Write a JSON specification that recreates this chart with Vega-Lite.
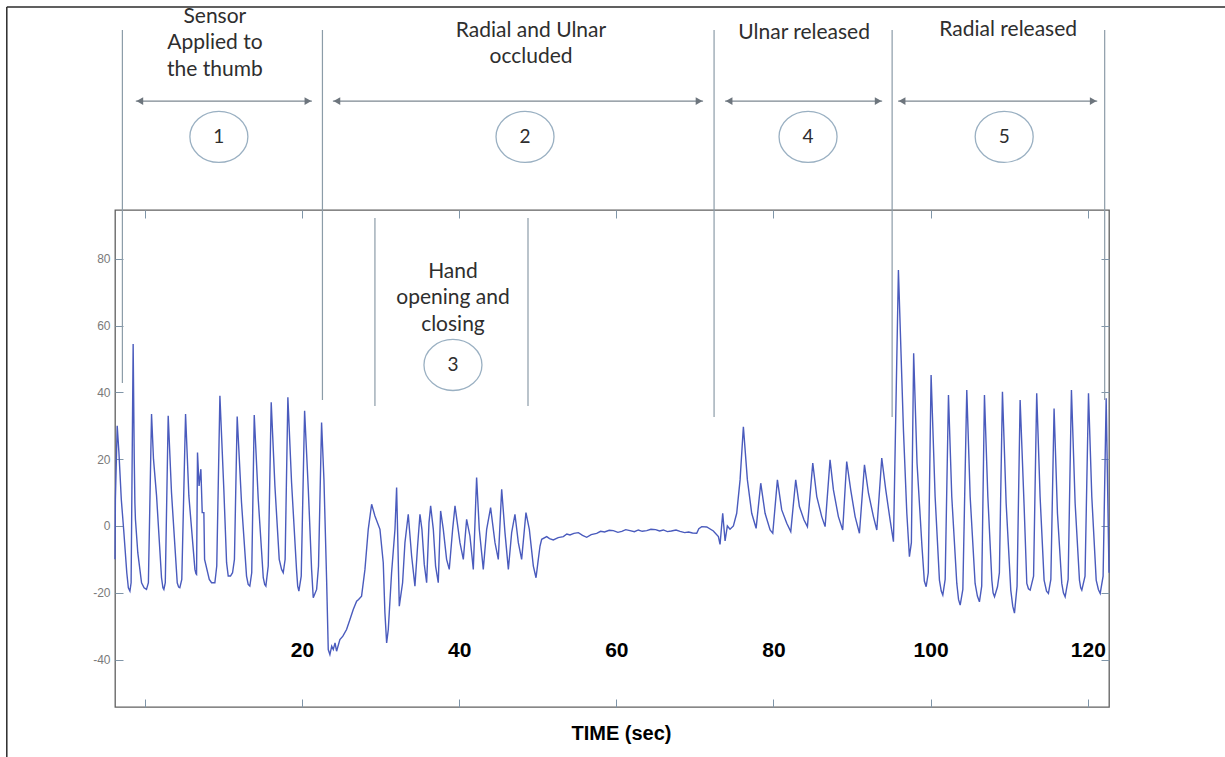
{
  "$schema": "https://vega.github.io/schema/vega-lite/v6.json",
  "width": 994,
  "height": 497,
  "autosize": "none",
  "padding": {"left": 115, "top": 210, "right": 116, "bottom": 50},
  "background": "white",
  "config": {
    "view": {"stroke": "#606060", "strokeWidth": 1.3},
    "axis": {"grid": false, "domain": false, "tickColor": "#7f95a8", "tickWidth": 1}
  },
  "datasets": {
    "signal": [
      {"t": -3.8, "v": -10}, {"t": -3.75, "v": 8}, {"t": -3.52, "v": 30}, {"t": -3.3, "v": 22}, {"t": -3.0, "v": 8},
      {"t": -2.7, "v": -1}, {"t": -2.3, "v": -14}, {"t": -2.1, "v": -18.5}, {"t": -1.9, "v": -19.5}, {"t": -1.75, "v": -17}, {"t": -1.49, "v": 54.5},
      {"t": -1.35, "v": 20}, {"t": -1.27, "v": 7}, {"t": -1.2, "v": 2}, {"t": -0.9, "v": -8}, {"t": -0.42, "v": -17},
      {"t": -0.1, "v": -18.5}, {"t": 0.21, "v": -19}, {"t": 0.45, "v": -17}, {"t": 0.85, "v": 33.5}, {"t": 1.1, "v": 20}, {"t": 1.49, "v": 9},
      {"t": 2.12, "v": -15.5}, {"t": 2.3, "v": -18.5}, {"t": 2.42, "v": -19}, {"t": 2.6, "v": -17}, {"t": 2.97, "v": 33}, {"t": 3.39, "v": 10},
      {"t": 4.12, "v": -17}, {"t": 4.3, "v": -18.3}, {"t": 4.45, "v": -18.5}, {"t": 4.7, "v": -16}, {"t": 5.18, "v": 33.5}, {"t": 5.6, "v": 9},
      {"t": 6.37, "v": -13}, {"t": 6.5, "v": -14.3}, {"t": 6.58, "v": -14.5}, {"t": 6.7, "v": 22}, {"t": 6.9, "v": 12}, {"t": 7.13, "v": 17},
      {"t": 7.3, "v": 4}, {"t": 7.51, "v": 4}, {"t": 7.6, "v": -10}, {"t": 8.2, "v": -16}, {"t": 8.49, "v": -17}, {"t": 8.91, "v": -17},
      {"t": 9.15, "v": -12}, {"t": 9.55, "v": 39}, {"t": 10.05, "v": 11}, {"t": 10.4, "v": -11}, {"t": 10.61, "v": -15},
      {"t": 10.9, "v": -15}, {"t": 11.16, "v": -14}, {"t": 11.4, "v": -10}, {"t": 11.75, "v": 32.8}, {"t": 12.3, "v": 7}, {"t": 12.94, "v": -15},
      {"t": 13.15, "v": -17.5}, {"t": 13.36, "v": -18}, {"t": 13.6, "v": -14}, {"t": 13.92, "v": 33.2}, {"t": 14.43, "v": 8}, {"t": 15.07, "v": -15.5},
      {"t": 15.25, "v": -17.5}, {"t": 15.4, "v": -18}, {"t": 15.7, "v": -12}, {"t": 16.08, "v": 37}, {"t": 16.55, "v": 12}, {"t": 17.1, "v": -10},
      {"t": 17.4, "v": -13}, {"t": 17.61, "v": -14}, {"t": 17.85, "v": -10}, {"t": 18.2, "v": 38.5}, {"t": 18.67, "v": 13}, {"t": 19.3, "v": -13},
      {"t": 19.45, "v": -18}, {"t": 19.6, "v": -19.5}, {"t": 19.9, "v": -15}, {"t": 20.33, "v": 34.5}, {"t": 20.8, "v": 11}, {"t": 21.22, "v": -13},
      {"t": 21.43, "v": -21.5}, {"t": 21.86, "v": -19}, {"t": 22.1, "v": -12}, {"t": 22.49, "v": 31}, {"t": 22.79, "v": 14},
      {"t": 23.13, "v": -16}, {"t": 23.34, "v": -37}, {"t": 23.55, "v": -38.5}, {"t": 23.78, "v": -36}, {"t": 23.98, "v": -37}, {"t": 24.2, "v": -35}, {"t": 24.4, "v": -37.5},
      {"t": 24.82, "v": -34}, {"t": 25.2, "v": -33}, {"t": 25.67, "v": -31}, {"t": 26.1, "v": -28}, {"t": 26.52, "v": -25}, {"t": 26.95, "v": -22.5}, {"t": 27.2, "v": -22}, {"t": 27.58, "v": -21},
      {"t": 28.01, "v": -13}, {"t": 28.43, "v": -1}, {"t": 28.86, "v": 6.5}, {"t": 29.28, "v": 3}, {"t": 29.92, "v": -1},
      {"t": 30.34, "v": -11}, {"t": 30.55, "v": -26}, {"t": 30.77, "v": -35}, {"t": 30.98, "v": -31}, {"t": 31.4, "v": -14},
      {"t": 31.83, "v": -1}, {"t": 32.04, "v": 11.5}, {"t": 32.38, "v": -24}, {"t": 32.8, "v": -17}, {"t": 33.1, "v": -5},
      {"t": 33.52, "v": 3.5}, {"t": 33.95, "v": -9}, {"t": 34.37, "v": -18}, {"t": 34.71, "v": -6}, {"t": 35.01, "v": 3.5},
      {"t": 35.26, "v": -1}, {"t": 35.56, "v": -11.5}, {"t": 35.86, "v": -17}, {"t": 36.16, "v": 1}, {"t": 36.37, "v": 6},
      {"t": 36.71, "v": -1}, {"t": 37.0, "v": -12}, {"t": 37.34, "v": -17}, {"t": 37.64, "v": 4.5}, {"t": 37.98, "v": -1},
      {"t": 38.4, "v": -10}, {"t": 38.74, "v": -13}, {"t": 39.17, "v": -1}, {"t": 39.47, "v": 6}, {"t": 40.1, "v": -5},
      {"t": 40.53, "v": -10}, {"t": 40.95, "v": 2}, {"t": 41.37, "v": -3}, {"t": 41.8, "v": -13}, {"t": 42.22, "v": 14.5},
      {"t": 42.56, "v": -1}, {"t": 43.07, "v": -13}, {"t": 43.5, "v": -1}, {"t": 44.0, "v": 5.5}, {"t": 44.56, "v": -5},
      {"t": 44.98, "v": -10}, {"t": 45.41, "v": 11}, {"t": 45.83, "v": -2}, {"t": 46.26, "v": -13}, {"t": 46.68, "v": -2},
      {"t": 47.1, "v": 3.5}, {"t": 47.53, "v": -5}, {"t": 47.95, "v": -10}, {"t": 48.5, "v": 4}, {"t": 48.93, "v": -1},
      {"t": 49.44, "v": -12}, {"t": 49.78, "v": -15.5}, {"t": 50.07, "v": -10}, {"t": 50.29, "v": -6}, {"t": 50.5, "v": -4},
      {"t": 51.14, "v": -3.2}, {"t": 51.5, "v": -3.8}, {"t": 51.98, "v": -4.2}, {"t": 52.6, "v": -3.5}, {"t": 53.26, "v": -3.2}, {"t": 53.7, "v": -2.4}, {"t": 54.1, "v": -2.7}, {"t": 54.6, "v": -2.2}, {"t": 55.17, "v": -2},
      {"t": 55.7, "v": -2.8}, {"t": 56.23, "v": -3.4}, {"t": 56.8, "v": -2.6}, {"t": 57.5, "v": -2.2}, {"t": 58.0, "v": -1.6}, {"t": 58.5, "v": -1.8}, {"t": 59.1, "v": -1.3}, {"t": 59.62, "v": -1.4}, {"t": 60.2, "v": -1.9}, {"t": 60.7, "v": -1.6},
      {"t": 61.2, "v": -1.1}, {"t": 61.74, "v": -1.4}, {"t": 62.3, "v": -1.7}, {"t": 62.8, "v": -1.2}, {"t": 63.3, "v": -1.6}, {"t": 63.87, "v": -1.4}, {"t": 64.4, "v": -1.0}, {"t": 65.0, "v": -1.1}, {"t": 65.5, "v": -1.5}, {"t": 65.99, "v": -1.2},
      {"t": 66.5, "v": -1.7}, {"t": 67.0, "v": -1.5}, {"t": 67.6, "v": -1.2}, {"t": 68.11, "v": -1.6}, {"t": 68.7, "v": -2.0}, {"t": 69.2, "v": -1.8}, {"t": 69.7, "v": -2.1}, {"t": 70.23, "v": -2.2}, {"t": 70.5, "v": -0.8}, {"t": 70.87, "v": -0.2},
      {"t": 71.51, "v": -0.3}, {"t": 72.35, "v": -1.5}, {"t": 72.99, "v": -3.2}, {"t": 73.2, "v": -5.5}, {"t": 73.54, "v": 3.8},
      {"t": 73.84, "v": -4.5}, {"t": 74.13, "v": 0}, {"t": 74.47, "v": -1}, {"t": 74.9, "v": 0}, {"t": 75.32, "v": 3.8},
      {"t": 75.75, "v": 13.8}, {"t": 76.17, "v": 29.7}, {"t": 76.68, "v": 13.8}, {"t": 77.23, "v": 3.8}, {"t": 77.79, "v": -0.7},
      {"t": 78.38, "v": 12.8}, {"t": 78.93, "v": 3.8}, {"t": 79.57, "v": -1.2}, {"t": 79.91, "v": -2.2}, {"t": 80.5, "v": 13.8},
      {"t": 81.05, "v": 4.8}, {"t": 81.69, "v": 0.8}, {"t": 82.2, "v": -1.7}, {"t": 82.83, "v": 13.8}, {"t": 83.3, "v": 5.8},
      {"t": 83.89, "v": 1.8}, {"t": 84.32, "v": -0.2}, {"t": 85.0, "v": 18.8}, {"t": 85.51, "v": 8.8}, {"t": 86.14, "v": 2.8},
      {"t": 86.57, "v": -0.2}, {"t": 87.2, "v": 19.8}, {"t": 87.63, "v": 10.8}, {"t": 88.26, "v": 2.8}, {"t": 88.81, "v": -1.2},
      {"t": 89.32, "v": 19.3}, {"t": 89.83, "v": 10.8}, {"t": 90.39, "v": 2.8}, {"t": 90.94, "v": -2.2}, {"t": 91.58, "v": 18.3},
      {"t": 92.09, "v": 9.8}, {"t": 92.72, "v": 2.8}, {"t": 93.15, "v": -1.2}, {"t": 93.78, "v": 20.3}, {"t": 94.29, "v": 10.8},
      {"t": 94.84, "v": 1.8}, {"t": 95.27, "v": -4.7}, {"t": 95.9, "v": 76.6}, {"t": 96.54, "v": 28.7}, {"t": 96.97, "v": 3.8},
      {"t": 97.3, "v": -9.2}, {"t": 97.55, "v": -5}, {"t": 97.84, "v": 51.7}, {"t": 98.27, "v": 18.8}, {"t": 98.9, "v": -6.2},
      {"t": 99.2, "v": -16.5}, {"t": 99.43, "v": -18.2}, {"t": 99.7, "v": -14}, {"t": 100.06, "v": 45.2}, {"t": 100.57, "v": 8.8}, {"t": 101.12, "v": -16.2},
      {"t": 101.35, "v": -19.5}, {"t": 101.55, "v": -20.7}, {"t": 101.85, "v": -16}, {"t": 102.27, "v": 39.2}, {"t": 102.69, "v": 8.8}, {"t": 103.33, "v": -17.2},
      {"t": 103.55, "v": -22}, {"t": 103.76, "v": -23.7}, {"t": 104.1, "v": -19}, {"t": 104.6, "v": 40.7}, {"t": 105.03, "v": 8.8}, {"t": 105.66, "v": -17.2},
      {"t": 105.95, "v": -21}, {"t": 106.21, "v": -22.7}, {"t": 106.5, "v": -18}, {"t": 106.85, "v": 39.2}, {"t": 107.28, "v": 8.8}, {"t": 107.79, "v": -16.2},
      {"t": 107.95, "v": -20}, {"t": 108.13, "v": -21.2}, {"t": 108.51, "v": -18.2}, {"t": 108.75, "v": -14}, {"t": 109.14, "v": 40.2}, {"t": 109.61, "v": 6.8},
      {"t": 110.2, "v": -19.2}, {"t": 110.45, "v": -24}, {"t": 110.67, "v": -26.1}, {"t": 111.0, "v": -18}, {"t": 111.39, "v": 37.7}, {"t": 111.9, "v": 5.8},
      {"t": 112.24, "v": -17.2}, {"t": 112.45, "v": -18.8}, {"t": 112.67, "v": -19.2}, {"t": 113.1, "v": -15}, {"t": 113.5, "v": 39.7}, {"t": 113.93, "v": 8.8},
      {"t": 114.44, "v": -16.2}, {"t": 114.75, "v": -19.5}, {"t": 114.99, "v": -20.2}, {"t": 115.3, "v": -16}, {"t": 115.71, "v": 35.2}, {"t": 116.14, "v": 3.8},
      {"t": 116.69, "v": -17.2}, {"t": 116.9, "v": -20}, {"t": 117.12, "v": -21.2}, {"t": 117.5, "v": -16}, {"t": 117.92, "v": 40.7}, {"t": 118.39, "v": 6.8},
      {"t": 118.94, "v": -16.2}, {"t": 119.1, "v": -18.5}, {"t": 119.24, "v": -19.2}, {"t": 119.65, "v": -15}, {"t": 120.09, "v": 39.7}, {"t": 120.51, "v": 8.8},
      {"t": 121.07, "v": -16.2}, {"t": 121.35, "v": -19}, {"t": 121.58, "v": -20.2}, {"t": 121.95, "v": -15}, {"t": 122.34, "v": 38.2}, {"t": 122.7, "v": -14}
    ],
    "dividers": [
      {"t": -2.86, "top": 148.5, "bottom": 42.8},
      {"t": 22.6, "top": 148.5, "bottom": 37.7},
      {"t": 72.44, "top": 148.5, "bottom": 32.6},
      {"t": 95.1, "top": 148.5, "bottom": 32.6},
      {"t": 122.15, "top": 148.5, "bottom": 37.7},
      {"t": 29.28, "top": 92.2, "bottom": 35.9},
      {"t": 48.76, "top": 92.2, "bottom": 35.9}
    ],
    "spans": [
      {"start": -1.15, "end": 21.26, "v": 127.2},
      {"start": 23.93, "end": 71.04, "v": 127.2},
      {"start": 73.84, "end": 93.83, "v": 127.2},
      {"start": 95.86, "end": 121.2, "v": 127.2}
    ],
    "phases": [
      {"t": 9.42, "v": 116.5, "label": "1"},
      {"t": 48.38, "v": 116.5, "label": "2"},
      {"t": 39.21, "v": 48.2, "label": "3"},
      {"t": 84.4, "v": 116.5, "label": "4"},
      {"t": 109.36, "v": 116.5, "label": "5"}
    ],
    "notes": [
      {"t": 8.91, "v": 152.4, "text": "Sensor"},
      {"t": 8.91, "v": 144.6, "text": "Applied to"},
      {"t": 8.91, "v": 136.5, "text": "the thumb"},
      {"t": 49.14, "v": 148.2, "text": "Radial and Ulnar"},
      {"t": 49.14, "v": 140.4, "text": "occluded"},
      {"t": 83.9, "v": 147.6, "text": "Ulnar released"},
      {"t": 109.87, "v": 148.5, "text": "Radial released"},
      {"t": 39.21, "v": 76.0, "text": "Hand"},
      {"t": 39.21, "v": 68.3, "text": "opening and"},
      {"t": 39.21, "v": 60.2, "text": "closing"}
    ],
    "border": [
      {"x1": -17.57, "x2": -17.57, "y1": 155.4, "y2": -75},
      {"x1": -17.57, "x2": 140, "y1": 155.4, "y2": 155.4}
    ]
  },
  "layer": [
    {
      "data": {"name": "border"},
      "mark": {"type": "rule", "color": "#2b2b2b", "strokeWidth": 1.5},
      "encoding": {
        "x": {"field": "x1", "type": "quantitative", "axis": null, "scale": {"domain": [-3.8, 122.7], "nice": false, "zero": false}},
        "x2": {"field": "x2"},
        "y": {"field": "y1", "type": "quantitative", "axis": null, "scale": {"domain": [-54.2, 94.6], "nice": false, "zero": false}},
        "y2": {"field": "y2"}
      }
    },
    {
      "data": {"name": "signal"},
      "mark": {"type": "line", "color": "#4a5bbd", "strokeWidth": 1.4},
      "encoding": {
        "x": {
          "field": "t", "type": "quantitative",
          "scale": {"domain": [-3.8, 122.7], "nice": false, "zero": false},
          "axis": {
            "orient": "bottom", "values": [0, 20, 40, 60, 80, 100, 120],
            "tickSize": -8, "labelPadding": -49, "labelBaseline": "middle",
            "labelExpr": "datum.value === 0 ? '' : datum.label",
            "labelFont": "Liberation Sans", "labelFontWeight": "bold", "labelFontSize": 21, "labelColor": "#000000",
            "labelFlush": false, "labelOverlap": false,
            "title": "TIME (sec)", "titleFont": "Liberation Sans", "titleFontWeight": "bold", "titleFontSize": 20,
            "titleColor": "#000000", "titleX": 506, "titleY": 26, "titleAlign": "center", "titleBaseline": "middle"
          }
        },
        "y": {
          "field": "v", "type": "quantitative",
          "scale": {"domain": [-54.2, 94.6], "nice": false, "zero": false},
          "axis": {
            "orient": "left", "values": [-40, -20, 0, 20, 40, 60, 80],
            "tickSize": -8, "labelPadding": 13,
            "labelExpr": "'' + datum.value",
            "labelFont": "Liberation Sans", "labelFontSize": 12, "labelColor": "#7a7a7a",
            "labelFlush": false, "labelOverlap": false, "title": null
          }
        }
      }
    },
    {
      "data": {"name": "dividers"},
      "mark": {"type": "rule", "color": "#8c9ca8", "strokeWidth": 1.2},
      "encoding": {
        "x": {
          "field": "t", "type": "quantitative",
          "scale": {"domain": [-3.8, 122.7], "nice": false, "zero": false},
          "axis": {"orient": "top", "values": [0, 20, 40, 60, 80, 100, 120], "labels": false, "tickSize": -8, "title": null}
        },
        "y": {
          "field": "top", "type": "quantitative",
          "scale": {"domain": [-54.2, 94.6], "nice": false, "zero": false},
          "axis": {"orient": "right", "values": [-40, -20, 0, 20, 40, 60, 80], "labels": false, "tickSize": -8, "title": null}
        },
        "y2": {"field": "bottom"}
      }
    },
    {
      "data": {"name": "spans"},
      "mark": {"type": "rule", "color": "#7d8791", "strokeWidth": 1.4},
      "encoding": {
        "x": {"field": "start", "type": "quantitative", "axis": null, "scale": {"domain": [-3.8, 122.7], "nice": false, "zero": false}},
        "x2": {"field": "end"},
        "y": {"field": "v", "type": "quantitative", "axis": null, "scale": {"domain": [-54.2, 94.6], "nice": false, "zero": false}}
      }
    },
    {
      "data": {"name": "spans"},
      "mark": {"type": "point", "shape": "triangle-left", "filled": true, "color": "#6d757d", "size": 60, "opacity": 1, "xOffset": 4},
      "encoding": {
        "x": {"field": "start", "type": "quantitative", "axis": null, "scale": {"domain": [-3.8, 122.7], "nice": false, "zero": false}},
        "y": {"field": "v", "type": "quantitative", "axis": null, "scale": {"domain": [-54.2, 94.6], "nice": false, "zero": false}}
      }
    },
    {
      "data": {"name": "spans"},
      "mark": {"type": "point", "shape": "triangle-right", "filled": true, "color": "#6d757d", "size": 60, "opacity": 1, "xOffset": -4},
      "encoding": {
        "x": {"field": "end", "type": "quantitative", "axis": null, "scale": {"domain": [-3.8, 122.7], "nice": false, "zero": false}},
        "y": {"field": "v", "type": "quantitative", "axis": null, "scale": {"domain": [-54.2, 94.6], "nice": false, "zero": false}}
      }
    },
    {
      "data": {"name": "phases"},
      "mark": {"type": "point", "shape": "M -1 0 A 1 0.88 0 1 0 1 0 A 1 0.88 0 1 0 -1 0 Z", "filled": false, "stroke": "#9ab0c2", "strokeWidth": 1.3, "size": 3364, "opacity": 1},
      "encoding": {
        "x": {"field": "t", "type": "quantitative", "axis": null, "scale": {"domain": [-3.8, 122.7], "nice": false, "zero": false}},
        "y": {"field": "v", "type": "quantitative", "axis": null, "scale": {"domain": [-54.2, 94.6], "nice": false, "zero": false}}
      }
    },
    {
      "data": {"name": "phases"},
      "mark": {"type": "text", "font": "Lato", "fontSize": 19, "color": "#2e2e2e", "baseline": "middle", "align": "center"},
      "encoding": {
        "x": {"field": "t", "type": "quantitative", "axis": null, "scale": {"domain": [-3.8, 122.7], "nice": false, "zero": false}},
        "y": {"field": "v", "type": "quantitative", "axis": null, "scale": {"domain": [-54.2, 94.6], "nice": false, "zero": false}},
        "text": {"field": "label"}
      }
    },
    {
      "data": {"name": "notes"},
      "mark": {"type": "text", "font": "Lato", "fontSize": 21, "color": "#2e2e2e", "baseline": "middle", "align": "center"},
      "encoding": {
        "x": {"field": "t", "type": "quantitative", "axis": null, "scale": {"domain": [-3.8, 122.7], "nice": false, "zero": false}},
        "y": {"field": "v", "type": "quantitative", "axis": null, "scale": {"domain": [-54.2, 94.6], "nice": false, "zero": false}},
        "text": {"field": "text"}
      }
    }
  ],
  "resolve": {"axis": {"x": "independent", "y": "independent"}}
}
